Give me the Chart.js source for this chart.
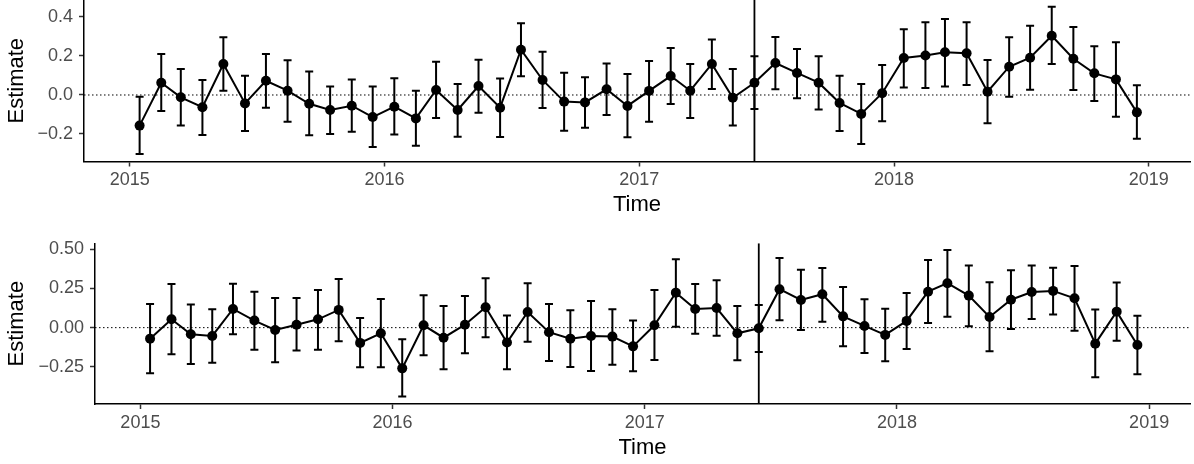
<!DOCTYPE html>
<html>
<head>
<meta charset="utf-8">
<script src="https://cdn.jsdelivr.net/npm/chart.js"></script>
<style>
  body { margin: 0; background: #fff; }
  #wrap { position: relative; width: 1194px; height: 464px; }
  canvas { position: absolute; left: 0; }
  #top { top: 0; }
  #bot { top: 225px; }
</style>
</head>
<body>
<div id="wrap">
  <canvas id="top" width="1194" height="225"></canvas>
  <canvas id="bot" width="1194" height="239"></canvas>
</div>
<script>
// monthly estimates, 15th of each month
const months = [
  '2015-01','2015-02','2015-03','2015-04','2015-05','2015-06','2015-07','2015-08','2015-09','2015-10','2015-11','2015-12',
  '2016-01','2016-02','2016-03','2016-04','2016-05','2016-06','2016-07','2016-08','2016-09','2016-10','2016-11','2016-12',
  '2017-01','2017-02','2017-03','2017-04','2017-05','2017-06','2017-07','2017-08','2017-09','2017-10','2017-11','2017-12',
  '2018-01','2018-02','2018-03','2018-04','2018-05','2018-06','2018-07','2018-08','2018-09','2018-10','2018-11','2018-12'
];
const cutDate = '2017-06-15';
const xTicks = [2015, 2016, 2017, 2018, 2019];

// top panel
const topEst = [-0.157,0.063,-0.012,-0.063,0.159,-0.043,0.073,0.022,-0.045,-0.077,-0.055,-0.113,
  -0.060,-0.120,0.026,-0.077,0.046,-0.065,0.232,0.077,-0.034,-0.038,0.029,-0.056,
  0.021,0.097,0.022,0.159,-0.014,0.063,0.164,0.113,0.063,-0.041,-0.097,0.009,
  0.190,0.202,0.219,0.214,0.017,0.145,0.191,0.304,0.186,0.111,0.080,-0.089];
const topLow = [-0.303,-0.082,-0.157,-0.205,0.022,-0.185,-0.065,-0.137,-0.207,-0.200,-0.188,-0.267,
  -0.203,-0.260,-0.118,-0.214,-0.091,-0.215,0.096,-0.067,-0.183,-0.168,-0.103,-0.217,
  -0.137,-0.046,-0.118,0.031,-0.156,-0.072,0.029,-0.017,-0.075,-0.185,-0.251,-0.135,
  0.038,0.036,0.044,0.051,-0.145,-0.009,0.027,0.159,0.026,-0.031,-0.111,-0.224];
const topHigh = [-0.009,0.210,0.133,0.077,0.296,0.099,0.210,0.178,0.121,0.043,0.080,0.044,
  0.086,0.022,0.171,0.056,0.181,0.085,0.368,0.222,0.114,0.091,0.162,0.108,
  0.174,0.241,0.159,0.284,0.133,0.198,0.297,0.236,0.198,0.099,0.056,0.154,
  0.337,0.373,0.390,0.373,0.179,0.296,0.355,0.453,0.349,0.250,0.270,0.050];
const topYTicks = [-0.2, 0.0, 0.2, 0.4];

// bottom panel
const botEst = [-0.070,0.053,-0.042,-0.053,0.119,0.045,-0.015,0.019,0.053,0.113,-0.097,-0.036,
  -0.259,0.015,-0.064,0.019,0.130,-0.095,0.100,-0.029,-0.070,-0.053,-0.057,-0.119,
  0.015,0.223,0.119,0.125,-0.036,-0.004,0.245,0.176,0.213,0.072,0.011,-0.046,
  0.043,0.229,0.283,0.204,0.068,0.178,0.227,0.234,0.187,-0.102,0.102,-0.110];
const botLow = [-0.290,-0.170,-0.231,-0.223,-0.042,-0.140,-0.220,-0.146,-0.140,-0.087,-0.252,-0.252,
  -0.439,-0.176,-0.265,-0.163,-0.061,-0.265,-0.089,-0.212,-0.250,-0.276,-0.236,-0.278,
  -0.206,0.006,-0.038,-0.051,-0.208,-0.155,0.047,-0.015,0.038,-0.119,-0.161,-0.214,
  -0.136,0.030,0.070,0.009,-0.150,-0.008,0.055,0.083,-0.019,-0.316,-0.083,-0.297];
const botHigh = [0.151,0.278,0.147,0.117,0.280,0.229,0.189,0.189,0.240,0.310,0.062,0.183,
  -0.074,0.206,0.138,0.202,0.315,0.077,0.283,0.151,0.111,0.170,0.117,0.045,
  0.240,0.436,0.278,0.302,0.138,0.145,0.444,0.368,0.380,0.259,0.181,0.121,
  0.221,0.431,0.495,0.395,0.289,0.366,0.395,0.382,0.393,0.115,0.287,0.076];
const botYTicks = [-0.25, 0.00, 0.25, 0.50];

const FONT = '"Liberation Sans", Arial, Helvetica, sans-serif';

function toYear(s) {
  const p = s.split('-').map(Number);
  const y = p[0], m = p[1], d = p[2] || 15;
  const a = Date.UTC(y, 0, 1), b = Date.UTC(y, m - 1, d), c = Date.UTC(y + 1, 0, 1);
  return y + (b - a) / (c - a);
}
const xs = months.map(toYear);
const xCut = toYear(cutDate);
const xMin = 2014.82, xMax = 2019.162;

// error bars drawn with the chart's own scales
const errorBars = {
  id: 'errorBars',
  afterDatasetsDraw(chart, args, opts) {
    const { ctx, scales: { x, y } } = chart;
    const cap = 4;
    ctx.save();
    ctx.strokeStyle = '#000';
    ctx.lineWidth = 2;
    opts.low.forEach((lo, i) => {
      const px = x.getPixelForValue(xs[i]);
      const y1 = y.getPixelForValue(lo), y2 = y.getPixelForValue(opts.high[i]);
      ctx.beginPath();
      ctx.moveTo(px, y1); ctx.lineTo(px, y2);
      ctx.moveTo(px - cap, y1); ctx.lineTo(px + cap, y1);
      ctx.moveTo(px - cap, y2); ctx.lineTo(px + cap, y2);
      ctx.stroke();
    });
    ctx.restore();
  }
};

function fmt(v, dec) {
  const s = Math.abs(v).toFixed(dec);
  return v < -1e-9 ? '\u2212' + s : s;
}

function makeChart(id, est, low, high, o) {
  return new Chart(document.getElementById(id), {
    type: 'line',
    data: {
      datasets: [
        { // zero line
          data: [{ x: xMin, y: 0 }, { x: xMax, y: 0 }],
          borderColor: '#000', borderWidth: 1, borderDash: [1.5, 2.5],
          pointRadius: 0, order: 3
        },
        { // cut line
          data: [{ x: xCut, y: o.yMin }, { x: xCut, y: o.yMax }],
          borderColor: '#000', borderWidth: 1.8,
          pointRadius: 0, order: 2
        },
        {
          data: est.map((v, i) => ({ x: xs[i], y: v })),
          borderColor: '#000', borderWidth: 2,
          pointRadius: 5, pointBackgroundColor: '#000', pointBorderWidth: 0,
          order: 1
        }
      ]
    },
    options: {
      responsive: false,
      animation: false,
      devicePixelRatio: 1,
      layout: { autoPadding: false, padding: { top: o.padTop, right: 4, bottom: 0, left: 0 } },
      plugins: {
        legend: { display: false },
        tooltip: { enabled: false },
        errorBars: { low: low, high: high }
      },
      scales: {
        x: {
          type: 'linear', min: xMin, max: xMax,
          afterBuildTicks: s => { s.ticks = xTicks.map(v => ({ value: v })); },
          afterFit: s => { s.height = o.xHeight; s.paddingLeft = 0; s.paddingRight = 0; },
          border: { display: true, color: '#000', width: 1.5 },
          grid: { display: true, drawOnChartArea: false, drawTicks: true, tickLength: 5, tickWidth: 1.5, tickColor: '#333' },
          ticks: { color: '#4d4d4d', font: { family: FONT, size: 18 }, padding: 3, maxRotation: 0,
                   callback: v => String(v) },
          title: { display: true, text: 'Time', color: '#000', font: { family: FONT, size: 22 },
                   padding: { top: 0, bottom: o.xTitlePad } }
        },
        y: {
          type: 'linear', min: o.yMin, max: o.yMax,
          afterBuildTicks: s => { s.ticks = o.yTicks.map(v => ({ value: v })); },
          afterFit: s => { s.width = o.yWidth; s.paddingTop = 0; s.paddingBottom = 0; },
          border: { display: true, color: '#000', width: 1.5 },
          grid: { display: true, drawOnChartArea: false, drawTicks: true, tickLength: 5, tickWidth: 1.5, tickColor: '#333' },
          ticks: { color: '#4d4d4d', font: { family: FONT, size: 18 }, padding: 6,
                   callback: v => fmt(v, o.dec) },
          title: { display: true, text: 'Estimate', color: '#000', font: { family: FONT, size: 22 },
                   padding: { top: 3.5, bottom: 0 } }
        }
      }
    },
    plugins: [errorBars]
  });
}

makeChart('top', topEst, topLow, topHigh, {
  yMin: -0.341, yMax: 0.487, yTicks: topYTicks, dec: 1,
  yWidth: 84, xHeight: 63.5, padTop: 0, xTitlePad: 7
});
makeChart('bot', botEst, botLow, botHigh, {
  yMin: -0.486, yMax: 0.537, yTicks: botYTicks, dec: 2,
  yWidth: 95, xHeight: 60, padTop: 18.3, xTitlePad: 2.5
});
</script>
</body>
</html>
